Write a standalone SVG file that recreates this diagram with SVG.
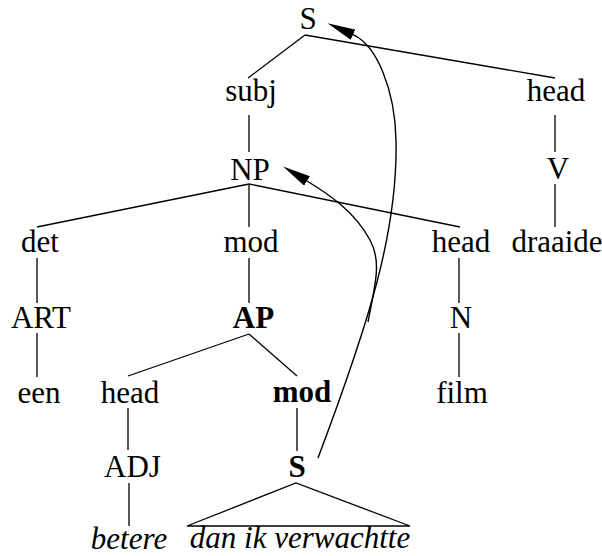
<svg xmlns="http://www.w3.org/2000/svg" width="602" height="556" viewBox="0 0 602 556">
<style>
text{font-family:"Times New Roman","Liberation Serif",serif;font-size:31px;fill:#000;text-anchor:middle}
.b{font-weight:bold}
.i{font-style:italic}
.e{stroke:#000;stroke-width:1.3;fill:none}
.arc{stroke:#000;stroke-width:1.4;fill:none;marker-end:url(#ah)}
</style>
<defs>
<marker id="ah" markerUnits="userSpaceOnUse" viewBox="0 0 28 11" refX="0" refY="5.5" markerWidth="28" markerHeight="11" orient="auto">
<path d="M0,0 L28,5.5 L0,11 Z" fill="#000"/>
</marker>
</defs>
<rect width="602" height="556" fill="#fff"/>
<g id="connectors">
<path class="e" d="M305,35 L248,78"/>
<path class="e" d="M305,35 L555,78"/>
<path class="e" d="M249,115 L249,152"/>
<path class="e" d="M555,115 L555,152"/>
<path class="e" d="M249,184 L37,227"/>
<path class="e" d="M249,184 L249,227"/>
<path class="e" d="M249,184 L460,227"/>
<path class="e" d="M555,184 L555,227"/>
<path class="e" d="M37,258 L37,303"/>
<path class="e" d="M249,258 L249,303"/>
<path class="e" d="M459,258 L459,303"/>
<path class="e" d="M37,333 L37,377"/>
<path class="e" d="M249,334 L128,376"/>
<path class="e" d="M249,334 L297,376"/>
<path class="e" d="M459,333 L459,377"/>
<path class="e" d="M128,408 L128,450"/>
<path class="e" d="M297,408 L297,451"/>
<path class="e" d="M129,483 L129,526"/>
<path class="e" d="M187,526 L296,483 L410,526 Z"/>
<path class="arc" d="M318,458 C370,320 398,230 396,140 C395,90 377,45.5 353,34.7"/>
<path class="arc" d="M368,322 C375,285 382,262 370,240 C355,212 330,195 307,181"/>
</g>
<g id="n-S"><text x="308" y="29">S</text></g>
<g id="n-subj"><text x="251" y="101">subj</text></g>
<g id="n-head1"><text x="556" y="101">head</text></g>
<g id="n-NP"><text x="250" y="180">NP</text></g>
<g id="n-V"><text x="558" y="179">V</text></g>
<g id="n-det"><text x="40" y="252">det</text></g>
<g id="n-mod1"><text x="251" y="252">mod</text></g>
<g id="n-head2"><text x="461" y="252">head</text></g>
<g id="n-draaide"><text x="557" y="252">draaide</text></g>
<g id="n-ART"><text x="41" y="328">ART</text></g>
<g id="n-AP"><text class="b" x="253.5" y="328">AP</text></g>
<g id="n-N"><text x="461" y="328">N</text></g>
<g id="n-een"><text x="39" y="403">een</text></g>
<g id="n-head3"><text x="130" y="403">head</text></g>
<g id="n-mod2"><text class="b" x="302" y="402">mod</text></g>
<g id="n-film"><text x="462" y="403">film</text></g>
<g id="n-ADJ"><text x="132.5" y="477">ADJ</text></g>
<g id="n-S2"><text class="b" x="297" y="477">S</text></g>
<g id="n-betere"><text class="i" x="129" y="549">betere</text></g>
<g id="n-dan"><text class="i" x="300" y="548">dan ik verwachtte</text></g>
</svg>
